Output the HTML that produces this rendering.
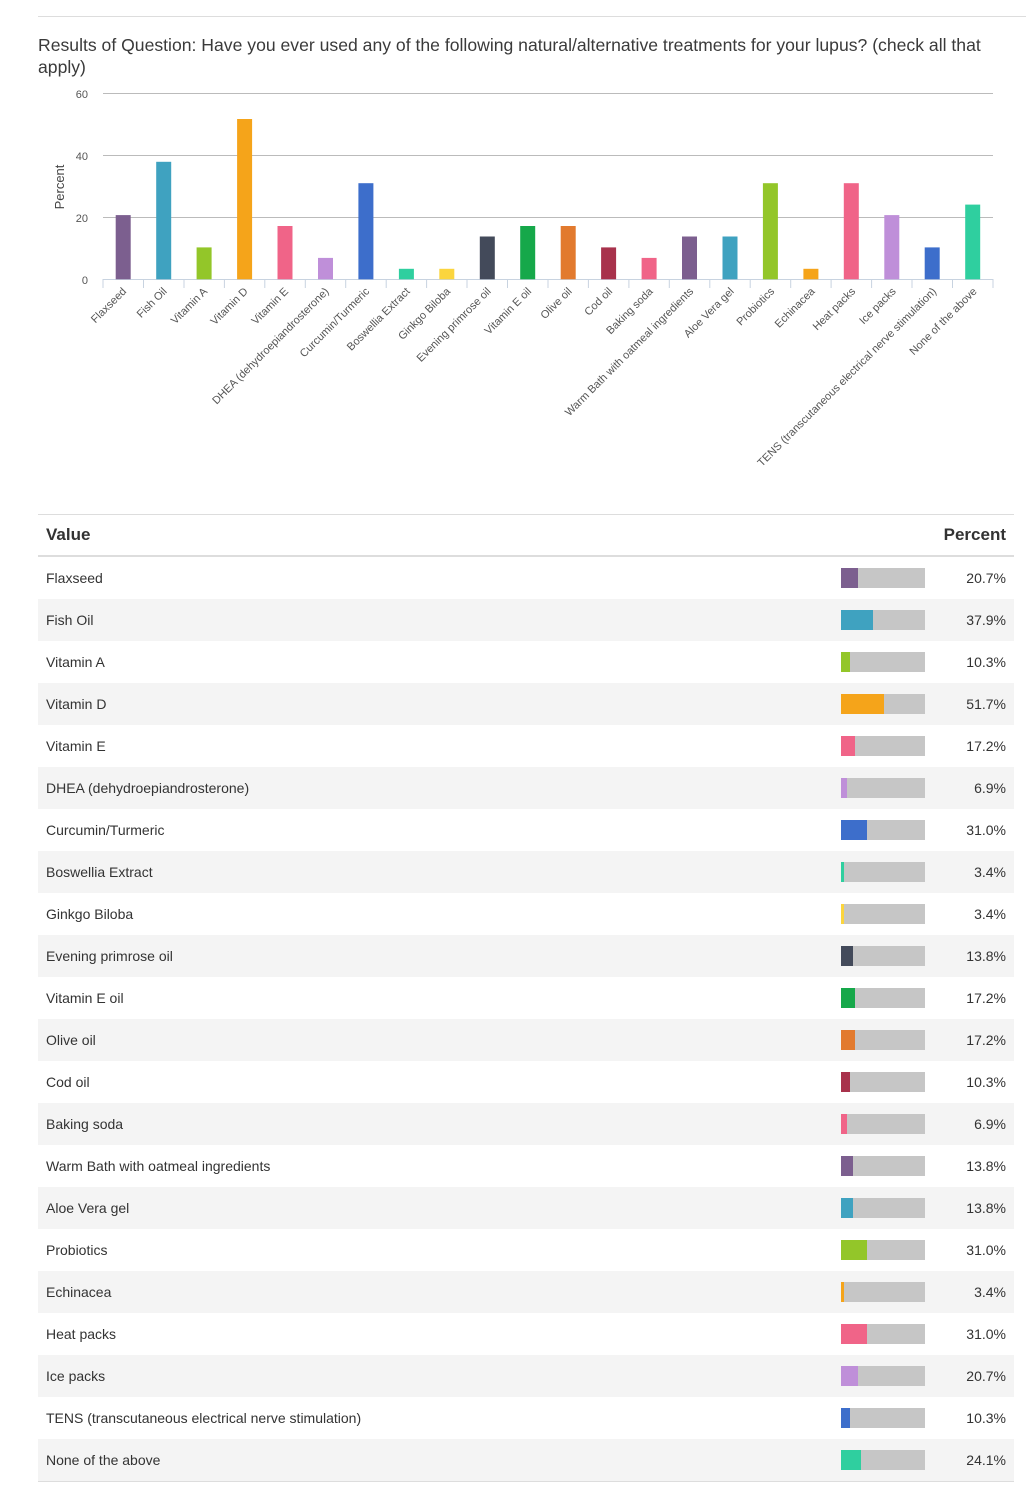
<!DOCTYPE html>
<html><head><meta charset="utf-8"><style>
body{margin:0;background:#fff;font-family:"Liberation Sans",sans-serif;color:#333;}
#top{position:absolute;left:38px;top:16px;width:988px;height:1px;background:#ddd}
#title{position:absolute;left:38px;top:34px;width:960px;font-size:17.6px;line-height:22px;color:#3a3a3a}
svg{position:absolute;left:0;top:0}
table{position:absolute;left:38px;top:514px;width:976px;border-collapse:collapse;font-size:14px;color:#333}
th{height:40px;text-align:left;font-size:17px;font-weight:bold;color:#333;border-top:1px solid #ddd;border-bottom:2px solid #ddd;padding:0 8px}
td{height:42px;padding:0 8px}
tr:nth-child(odd) td{background:#f4f4f4}
tr:last-child td{border-bottom:1px solid #ddd}
.b{width:84px;height:20px;background:#c6c6c6;position:relative}
.b i{position:absolute;left:0;top:0;height:20px}
td.p{text-align:right;width:73px;padding:0 8px 0 0}
td.m{width:84px;padding:0 8px 0 0}
</style></head><body>
<div id="top"></div>
<div id="title">Results of Question: Have you ever used any of the following natural/alternative treatments for your lupus? (check all that apply)</div>
<svg width="1026" height="500" font-family="Liberation Sans, sans-serif">
<g stroke="#bbb" stroke-width="1"><line x1="103" y1="93.5" x2="993" y2="93.5"/><line x1="103" y1="155.5" x2="993" y2="155.5"/><line x1="103" y1="217.5" x2="993" y2="217.5"/></g>
<line x1="103" y1="279.5" x2="993" y2="279.5" stroke="#c8d3e0"/>
<g font-size="11" fill="#555" text-anchor="end"><text x="88" y="98">60</text><text x="88" y="160">40</text><text x="88" y="222">20</text><text x="88" y="284">0</text></g>
<text transform="translate(64,187) rotate(-90)" font-size="13" fill="#444" text-anchor="middle">Percent</text>
<g fill="none" stroke="#c8d3e0">
<path d="M103 279v9M143.5 279v9M184 279v9M224.4 279v9M264.8 279v9M305.3 279v9M345.7 279v9M386.2 279v9M426.6 279v9M467 279v9M507.5 279v9M548 279v9M588.4 279v9M628.9 279v9M669.3 279v9M709.8 279v9M750.2 279v9M790.7 279v9M831.1 279v9M871.6 279v9M912 279v9M952.5 279v9M993 279v9"/></g>
<g>
<rect x="115.7" y="215.1" width="15" height="64.2" fill="#7c5f8f"/>
<rect x="156.2" y="161.8" width="15" height="117.5" fill="#3fa2c0"/>
<rect x="196.6" y="247.4" width="15" height="31.9" fill="#93c629"/>
<rect x="237.1" y="119" width="15" height="160.3" fill="#f5a41a"/>
<rect x="277.5" y="226" width="15" height="53.3" fill="#f06488"/>
<rect x="318" y="257.9" width="15" height="21.4" fill="#bf8fd9"/>
<rect x="358.4" y="183.2" width="15" height="96.1" fill="#3d6ecb"/>
<rect x="398.9" y="268.8" width="15" height="10.5" fill="#2fcf9f"/>
<rect x="439.3" y="268.8" width="15" height="10.5" fill="#fbd53e"/>
<rect x="479.8" y="236.5" width="15" height="42.8" fill="#434a5a"/>
<rect x="520.2" y="226" width="15" height="53.3" fill="#16a84a"/>
<rect x="560.7" y="226" width="15" height="53.3" fill="#e27a2e"/>
<rect x="601.1" y="247.4" width="15" height="31.9" fill="#a8324c"/>
<rect x="641.6" y="257.9" width="15" height="21.4" fill="#f06488"/>
<rect x="682" y="236.5" width="15" height="42.8" fill="#7c5f8f"/>
<rect x="722.5" y="236.5" width="15" height="42.8" fill="#3fa2c0"/>
<rect x="762.9" y="183.2" width="15" height="96.1" fill="#93c629"/>
<rect x="803.4" y="268.8" width="15" height="10.5" fill="#f5a41a"/>
<rect x="843.8" y="183.2" width="15" height="96.1" fill="#f06488"/>
<rect x="884.3" y="215.1" width="15" height="64.2" fill="#bf8fd9"/>
<rect x="924.7" y="247.4" width="15" height="31.9" fill="#3d6ecb"/>
<rect x="965.2" y="204.6" width="15" height="74.7" fill="#2fcf9f"/>
</g>
<g font-size="11" fill="#555" text-anchor="end">
<text transform="translate(127,292) rotate(-45)">Flaxseed</text>
<text transform="translate(167.5,292) rotate(-45)">Fish Oil</text>
<text transform="translate(208,292) rotate(-45)">Vitamin A</text>
<text transform="translate(248.5,292) rotate(-45)">Vitamin D</text>
<text transform="translate(289,292) rotate(-45)">Vitamin E</text>
<text transform="translate(329.5,292) rotate(-45)">DHEA (dehydroepiandrosterone)</text>
<text transform="translate(370,292) rotate(-45)">Curcumin/Turmeric</text>
<text transform="translate(410.5,292) rotate(-45)">Boswellia Extract</text>
<text transform="translate(451,292) rotate(-45)">Ginkgo Biloba</text>
<text transform="translate(491.5,292) rotate(-45)">Evening primrose oil</text>
<text transform="translate(532,292) rotate(-45)">Vitamin E oil</text>
<text transform="translate(572.5,292) rotate(-45)">Olive oil</text>
<text transform="translate(613,292) rotate(-45)">Cod oil</text>
<text transform="translate(653.5,292) rotate(-45)">Baking soda</text>
<text transform="translate(694,292) rotate(-45)">Warm Bath with oatmeal ingredients</text>
<text transform="translate(734.5,292) rotate(-45)">Aloe Vera gel</text>
<text transform="translate(775,292) rotate(-45)">Probiotics</text>
<text transform="translate(815.5,292) rotate(-45)">Echinacea</text>
<text transform="translate(856,292) rotate(-45)">Heat packs</text>
<text transform="translate(896.5,292) rotate(-45)">Ice packs</text>
<text transform="translate(937,292) rotate(-45)">TENS (transcutaneous electrical nerve stimulation)</text>
<text transform="translate(977.5,292) rotate(-45)">None of the above</text>
</g>
</svg>
<table>
<tr><th>Value</th><th></th><th style="text-align:right;padding-right:8px">Percent</th></tr>
<tr><td>Flaxseed</td><td class="m"><div class="b"><i style="width:17.4px;background:#7c5f8f"></i></div></td><td class="p">20.7%</td></tr>
<tr><td>Fish Oil</td><td class="m"><div class="b"><i style="width:31.8px;background:#3fa2c0"></i></div></td><td class="p">37.9%</td></tr>
<tr><td>Vitamin A</td><td class="m"><div class="b"><i style="width:8.7px;background:#93c629"></i></div></td><td class="p">10.3%</td></tr>
<tr><td>Vitamin D</td><td class="m"><div class="b"><i style="width:43.4px;background:#f5a41a"></i></div></td><td class="p">51.7%</td></tr>
<tr><td>Vitamin E</td><td class="m"><div class="b"><i style="width:14.4px;background:#f06488"></i></div></td><td class="p">17.2%</td></tr>
<tr><td>DHEA (dehydroepiandrosterone)</td><td class="m"><div class="b"><i style="width:5.8px;background:#bf8fd9"></i></div></td><td class="p">6.9%</td></tr>
<tr><td>Curcumin/Turmeric</td><td class="m"><div class="b"><i style="width:26px;background:#3d6ecb"></i></div></td><td class="p">31.0%</td></tr>
<tr><td>Boswellia Extract</td><td class="m"><div class="b"><i style="width:2.9px;background:#2fcf9f"></i></div></td><td class="p">3.4%</td></tr>
<tr><td>Ginkgo Biloba</td><td class="m"><div class="b"><i style="width:2.9px;background:#fbd53e"></i></div></td><td class="p">3.4%</td></tr>
<tr><td>Evening primrose oil</td><td class="m"><div class="b"><i style="width:11.6px;background:#434a5a"></i></div></td><td class="p">13.8%</td></tr>
<tr><td>Vitamin E oil</td><td class="m"><div class="b"><i style="width:14.4px;background:#16a84a"></i></div></td><td class="p">17.2%</td></tr>
<tr><td>Olive oil</td><td class="m"><div class="b"><i style="width:14.4px;background:#e27a2e"></i></div></td><td class="p">17.2%</td></tr>
<tr><td>Cod oil</td><td class="m"><div class="b"><i style="width:8.7px;background:#a8324c"></i></div></td><td class="p">10.3%</td></tr>
<tr><td>Baking soda</td><td class="m"><div class="b"><i style="width:5.8px;background:#f06488"></i></div></td><td class="p">6.9%</td></tr>
<tr><td>Warm Bath with oatmeal ingredients</td><td class="m"><div class="b"><i style="width:11.6px;background:#7c5f8f"></i></div></td><td class="p">13.8%</td></tr>
<tr><td>Aloe Vera gel</td><td class="m"><div class="b"><i style="width:11.6px;background:#3fa2c0"></i></div></td><td class="p">13.8%</td></tr>
<tr><td>Probiotics</td><td class="m"><div class="b"><i style="width:26px;background:#93c629"></i></div></td><td class="p">31.0%</td></tr>
<tr><td>Echinacea</td><td class="m"><div class="b"><i style="width:2.9px;background:#f5a41a"></i></div></td><td class="p">3.4%</td></tr>
<tr><td>Heat packs</td><td class="m"><div class="b"><i style="width:26px;background:#f06488"></i></div></td><td class="p">31.0%</td></tr>
<tr><td>Ice packs</td><td class="m"><div class="b"><i style="width:17.4px;background:#bf8fd9"></i></div></td><td class="p">20.7%</td></tr>
<tr><td>TENS (transcutaneous electrical nerve stimulation)</td><td class="m"><div class="b"><i style="width:8.7px;background:#3d6ecb"></i></div></td><td class="p">10.3%</td></tr>
<tr><td>None of the above</td><td class="m"><div class="b"><i style="width:20.2px;background:#2fcf9f"></i></div></td><td class="p">24.1%</td></tr>
</table>
</body></html>
